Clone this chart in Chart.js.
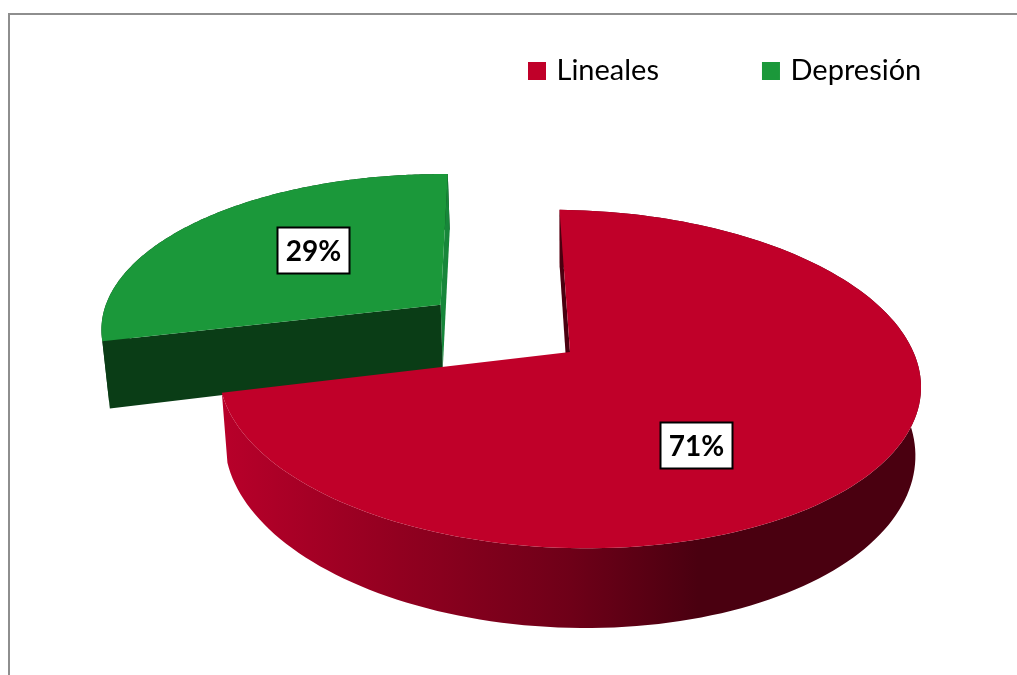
<!DOCTYPE html>
<html>
<head>
<meta charset="utf-8">
<title>Lineales / Depresión</title>
<script src="https://cdn.jsdelivr.net/npm/chart.js@4"></script>
<style>
  html, body { margin: 0; padding: 0; background: #fff; overflow: hidden; }
  #frame { position: absolute; left: 8px; top: 13px; right: -4px; bottom: -4px;
           border: 2px solid #8e8e8e; }
  canvas { position: absolute; left: 0; top: 0; }
</style>
</head>
<body>
<div id="frame"></div>
<canvas id="myChart" width="1017" height="675"></canvas>
<script>
const categories = ['Lineales', 'Depresión'];
const seriesValues = [71, 29];

const topColors = ['#c00029', '#1b983a'];
const startWallColors = ['#4a0010', '#0a3d16'];
const endWallColors = [null, '#17863a'];   // the red one faces away

// pie plane seen in perspective
const view = { cx: 570, cy: 352, rx: 346.5, ry: 164.7, k: -0.16, tilt: 8, depth: 67, inset: 0.984 };
const labelCenters = [[696.5, 445.5], [313.5, 250.5]];

function project(X, Y, low) {
    const w = 1 + view.k * Y;
    const rx = low ? view.rx * view.inset : view.rx;
    return [
        view.cx + rx * X / w,
        view.cy + (view.ry * Y + view.tilt * X) / w + (low ? view.depth / w : 0)
    ];
}

function fillPoly(ctx, pts, color) {
    ctx.beginPath();
    pts.forEach((p, i) => i ? ctx.lineTo(p[0], p[1]) : ctx.moveTo(p[0], p[1]));
    ctx.closePath();
    ctx.fillStyle = color;
    ctx.fill();
}

function drawSlice(ctx, el, i) {
    const mid = (el.startAngle + el.endAngle) / 2;
    const d = el.options.offset / el.outerRadius;
    const ox = d * Math.cos(mid), oy = d * Math.sin(mid);
    const steps = 160;
    const top = [], low = [];
    for (let s = 0; s <= steps; s++) {
        const a = el.startAngle + (el.endAngle - el.startAngle) * s / steps;
        top.push(project(ox + Math.cos(a), oy + Math.sin(a), false));
        low.push(project(ox + Math.cos(a), oy + Math.sin(a), true));
    }
    const apex = project(ox, oy, false), apexLow = project(ox, oy, true);

    // outer wall
    const wall = ctx.createLinearGradient(222, 0, 922, 0);
    if (i === 0) {
        wall.addColorStop(0, '#b8002a');
        wall.addColorStop(0.25, '#920020');
        wall.addColorStop(0.5, '#6e0018');
        wall.addColorStop(0.68, '#4a0010');
        wall.addColorStop(1, '#4a0010');
    } else {
        wall.addColorStop(0, startWallColors[i]);
        wall.addColorStop(1, startWallColors[i]);
    }
    fillPoly(ctx, top.concat(low.slice().reverse()), wall);

    // flat walls of the cut
    if (endWallColors[i]) {
        fillPoly(ctx, [top[steps], apex, apexLow, low[steps]], endWallColors[i]);
    }
    fillPoly(ctx, [top[0], apex, apexLow, low[0]], startWallColors[i]);

    // top face
    fillPoly(ctx, [apex].concat(top), topColors[i]);
}

const pie3d = {
    id: 'pie3d',
    afterLayout(chart) {
        // legend keeps its own drawing, only the box is moved
        const lg = chart.legend;
        const pad = lg.options.labels.padding;
        lg.left = 532 - pad;
        lg.right = lg.left + lg.width;
        lg.top = 71 - pad - lg.options.labels.font.size / 2;
    },
    beforeDatasetsDraw(chart) {
        const ctx = chart.ctx;
        const arcs = chart.getDatasetMeta(0).data;
        ctx.save();
        // the exploded slice sits behind the big one
        drawSlice(ctx, arcs[1], 1);
        drawSlice(ctx, arcs[0], 0);

        const total = seriesValues.reduce((a, b) => a + b, 0);
        ctx.font = 'bold 28px Lato';
        ctx.textAlign = 'center';
        ctx.textBaseline = 'middle';
        seriesValues.forEach((v, i) => {
            const [x, y] = labelCenters[i];
            ctx.fillStyle = '#fff';
            ctx.strokeStyle = '#000';
            ctx.lineWidth = 2;
            ctx.fillRect(x - 36, y - 23, 72, 46);
            ctx.strokeRect(x - 36, y - 23, 72, 46);
            ctx.fillStyle = '#000';
            ctx.fillText(Math.round(v / total * 100) + '%', x, y + 1);
        });
        ctx.restore();
        return false;
    }
};

const config = {
    type: 'pie',
    data: {
        labels: categories,
        datasets: [{
            data: seriesValues,
            backgroundColor: topColors,
            borderColor: topColors,
            borderWidth: 8,
            offset: [0, 101]
        }]
    },
    options: {
        responsive: false,
        animation: false,
        rotation: -2,
        plugins: {
            tooltip: { enabled: false },
            legend: {
                position: 'top',
                align: 'start',
                labels: {
                    boxWidth: 10,
                    boxHeight: 10,
                    padding: 107,
                    color: '#000',
                    font: { family: 'Lato', size: 29 }
                }
            }
        }
    },
    plugins: [pie3d]
};

const myChart = new Chart(document.getElementById('myChart'), config);
</script>
</body>
</html>
